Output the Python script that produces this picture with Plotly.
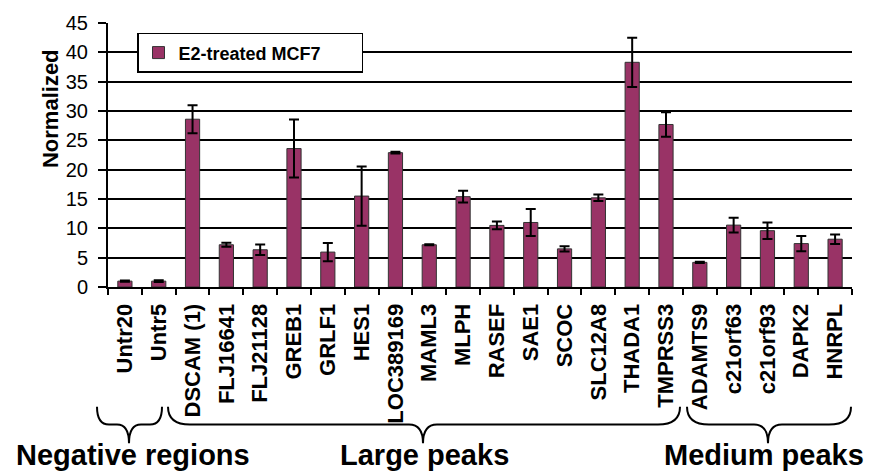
import plotly.graph_objects as go

# values
genes = ["Untr20", "Untr5", "DSCAM (1)", "FLJ16641", "FLJ21128", "GREB1", "GRLF1",
         "HES1", "LOC389169", "MAML3", "MLPH", "RASEF", "SAE1", "SCOC", "SLC12A8",
         "THADA1", "TMPRSS3", "ADAMTS9", "c21orf63", "c21orf93", "DAPK2", "HNRPL"]
normalized = [1.0, 1.0, 28.6, 7.2, 6.35, 23.6, 5.95, 15.5, 22.9, 7.2, 15.4, 10.5,
              11.0, 6.5, 15.2, 38.3, 27.7, 4.2, 10.55, 9.6, 7.4, 8.15]
err = [0.1, 0.15, 2.4, 0.35, 0.9, 4.95, 1.55, 5.05, 0.15, 0.1, 1.0, 0.65,
       2.3, 0.45, 0.55, 4.2, 2.1, 0.1, 1.25, 1.4, 1.3, 0.8]
groups = ["Negative regions", "Large peaks", "Medium peaks"]

FONT = "Arial, Liberation Sans, sans-serif"
BAR = "#993366"

# plot area in pixels (869 x 473 page)
L, R, T, B = 108, 852, 20, 287


def px(x):
    return (x - L) / (R - L)


def py(y):
    return (B - y) / (B - T)


def brace(x0, x1, xm, ytop=408, ymid=426, ybot=445, r=22, rc=14):
    pts = [
        f"M {px(x0)},{py(ytop)}",
        f"Q {px(x0)},{py(ymid)} {px(x0 + r)},{py(ymid)}",
        f"L {px(xm - rc)},{py(ymid)}",
        f"Q {px(xm)},{py(ymid)} {px(xm)},{py(ybot)}",
        f"Q {px(xm)},{py(ymid)} {px(xm + rc)},{py(ymid)}",
        f"L {px(x1 - r)},{py(ymid)}",
        f"Q {px(x1)},{py(ymid)} {px(x1)},{py(ytop)}",
    ]
    return dict(type="path", xref="paper", yref="paper", path=" ".join(pts),
                line=dict(color="black", width=2))


fig = go.Figure()
fig.add_trace(go.Bar(
    x=genes, y=normalized, name="E2-treated MCF7",
    marker=dict(color=BAR, line=dict(color="#333333", width=1)),
    error_y=dict(type="data", array=err, color="black", thickness=2, width=5),
))

fig.update_layout(
    width=869, height=473,
    margin=dict(l=L, r=869 - R, t=T, b=473 - B),
    plot_bgcolor="white", paper_bgcolor="white",
    bargap=0.58,
    font=dict(family=FONT, color="black"),
    showlegend=True,
    legend=dict(
        x=px(137), y=py(30), xanchor="left", yanchor="top",
        bgcolor="white", bordercolor="black", borderwidth=1.5,
        font=dict(size=18, family=FONT, weight="bold"),
        orientation="h", entrywidth=178,
    ),
    shapes=[brace(97, 162, 129, r=12, rc=12), brace(168, 680, 423), brace(687, 851, 768)],
)

fig.update_xaxes(
    type="category", range=[-0.5, len(genes) - 0.5],
    showline=True, linecolor="black", linewidth=2,
    ticks="outside", tickson="boundaries", ticklen=6, tickcolor="black", tickwidth=2,
    tickangle=-90, tickfont=dict(size=22, family=FONT, weight="bold"),
    ticklabelstandoff=6, showgrid=False,
)
fig.update_yaxes(
    range=[0, 45], dtick=5,
    showline=True, linecolor="black", linewidth=2,
    ticks="outside", ticklen=8, tickcolor="black", tickwidth=1.5,
    tickfont=dict(size=20, family=FONT), ticklabelstandoff=6,
    showgrid=True, gridcolor="black", gridwidth=1.5, zeroline=False,
)

fig.add_annotation(x=px(50), y=py(107), xref="paper", yref="paper",
                   xanchor="center", yanchor="middle",
                   text="<b>Normalized</b>", textangle=-90, showarrow=False,
                   font=dict(size=22, family=FONT))

for name, cx in zip(groups, [133, 424, 764]):
    fig.add_annotation(x=px(cx), y=py(457), xref="paper", yref="paper",
                       text=f"<b>{name}</b>", showarrow=False,
                       xanchor="center", yanchor="middle",
                       font=dict(size=29, family=FONT))

# page has a default 8px body margin; drop it so the figure fills the window
fig.write_html("out.html", config={"displayModeBar": False},
               post_script="document.body.style.margin='0';")
